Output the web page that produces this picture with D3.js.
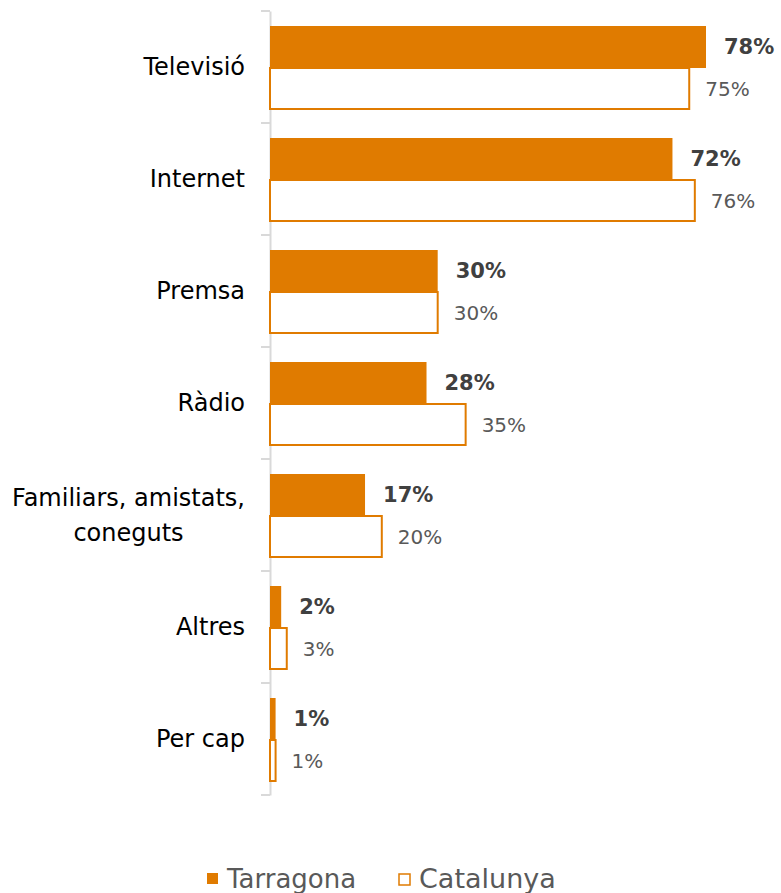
<!DOCTYPE html>
<html>
<head>
<meta charset="utf-8">
<script src="https://cdn.jsdelivr.net/npm/d3@7"></script>
<style>
  body { margin: 0; background: #fff; }
  text { font-family: "Century Gothic", "DejaVu Sans", sans-serif; }
</style>
</head>
<body>
<div id="chart"></div>
<script>
var categories = ["Televisió", "Internet", "Premsa", "Ràdio", "Familiars, amistats, coneguts", "Altres", "Per cap"];
var catLines = [["Televisió"], ["Internet"], ["Premsa"], ["Ràdio"], ["Familiars, amistats,", "coneguts"], ["Altres"], ["Per cap"]];
var tarragona = [78, 72, 30, 28, 17, 2, 1];
var catalunya = [75, 76, 30, 35, 20, 3, 1];
var seriesNames = ["Tarragona", "Catalunya"];

var svgWidth = 781, svgHeight = 893;
var orange = "#E07B00";

var svg = d3.select("#chart").append("svg")
  .attr("width", svgWidth)
  .attr("height", svgHeight);

// scales
var x = d3.scaleLinear().domain([0, 78]).range([270, 706]);
var y = d3.scaleBand().domain(categories).range([11, 795]);
var inner = d3.scaleBand().domain(seriesNames).range([15, 99]);

// axis
var leftAxis = d3.axisLeft(y).tickSize(0).tickFormat("");
var axisG = svg.append("g")
  .attr("transform", "translate(270,0)")
  .call(leftAxis);
axisG.select(".domain").attr("stroke", "#d9d9d9").attr("stroke-width", 2);
axisG.selectAll(".tick").remove();
// ticks sit on band boundaries
var bounds = categories.map(c => y(c)).concat([y.range()[1]]);
axisG.selectAll(".bound").data(bounds).enter().append("line")
  .attr("x1", -9).attr("x2", 0)
  .attr("y1", d => d).attr("y2", d => d)
  .attr("stroke", "#d9d9d9").attr("stroke-width", 2);

// bars
var rows = categories.map((c, i) => ({ cat: c, t: tarragona[i], c: catalunya[i], lines: catLines[i] }));

var g = svg.append("g");

g.selectAll(".barT").data(rows).enter().append("rect")
  .attr("x", x(0))
  .attr("y", d => y(d.cat) + inner("Tarragona"))
  .attr("width", d => x(d.t) - x(0))
  .attr("height", inner.bandwidth())
  .attr("fill", orange);

g.selectAll(".barC").data(rows).enter().append("rect")
  .attr("x", x(0))
  .attr("y", d => y(d.cat) + inner("Catalunya"))
  .attr("width", d => x(d.c) - x(0))
  .attr("height", inner.bandwidth() - 1)
  .attr("fill", "#fff")
  .attr("stroke", orange)
  .attr("stroke-width", 2);

// value labels
g.selectAll(".lblT").data(rows).enter().append("text")
  .attr("x", d => x(d.t) + 18)
  .attr("y", d => y(d.cat) + inner("Tarragona") + inner.bandwidth() / 2)
  .attr("dy", "0.35em")
  .attr("font-size", "21px")
  .attr("font-weight", "bold")
  .attr("fill", "#404040")
  .text(d => d.t + "%");

g.selectAll(".lblC").data(rows).enter().append("text")
  .attr("x", d => x(d.c) + 16)
  .attr("y", d => y(d.cat) + inner("Catalunya") + inner.bandwidth() / 2)
  .attr("dy", "0.35em")
  .attr("font-size", "20px")
  .attr("fill", "#595959")
  .text(d => d.c + "%");

// category labels (multi-line ones centred on their widest line)
var cl = g.selectAll(".cat").data(rows).enter().append("text")
  .attr("text-anchor", "middle")
  .attr("font-size", "24px")
  .attr("fill", "#000");
cl.each(function(d) {
  var n = d.lines.length;
  var cy = y(d.cat) + y.bandwidth() / 2;
  var sel = d3.select(this);
  d.lines.forEach(function(line, k) {
    sel.append("tspan")
      .attr("y", cy + (k - (n - 1) / 2) * 35)
      .attr("dy", "0.35em")
      .text(line);
  });
  var w = d3.max(sel.selectAll("tspan").nodes(), t => t.getComputedTextLength());
  sel.selectAll("tspan").attr("x", 245 - w / 2);
});

// legend
var legend = svg.append("g").attr("transform", "translate(0,879)");
legend.append("rect")
  .attr("x", 207).attr("y", -6).attr("width", 11).attr("height", 11)
  .attr("fill", orange);
legend.append("text")
  .attr("x", 227).attr("y", 0).attr("dy", "0.35em")
  .attr("font-size", "26px").attr("fill", "#595959")
  .text(seriesNames[0]);
legend.append("rect")
  .attr("x", 399).attr("y", -5).attr("width", 11).attr("height", 11)
  .attr("fill", "#fff").attr("stroke", orange).attr("stroke-width", 1.5);
legend.append("text")
  .attr("x", 419).attr("y", 0).attr("dy", "0.35em")
  .attr("font-size", "27px").attr("fill", "#595959")
  .text(seriesNames[1]);
</script>
</body>
</html>
